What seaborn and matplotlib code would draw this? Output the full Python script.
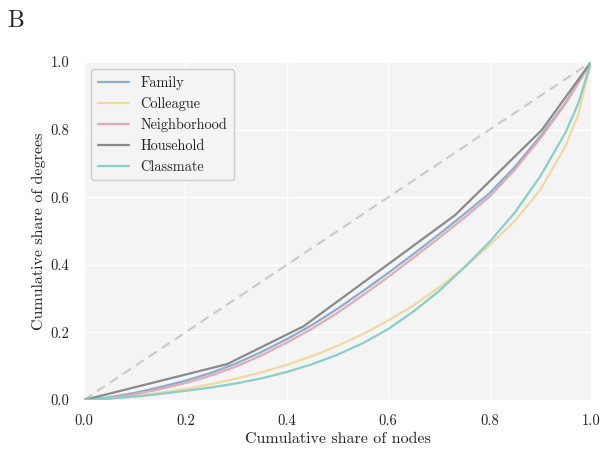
import matplotlib
matplotlib.use("Agg")
import matplotlib.pyplot as plt
import seaborn as sns
import pandas as pd

# ---- data ----
x_smooth = [0.0, 0.05, 0.1, 0.15, 0.2, 0.25, 0.3, 0.35, 0.4, 0.45, 0.5,
            0.55, 0.6, 0.65, 0.7, 0.75, 0.8, 0.85, 0.9, 0.95, 0.975, 1.0]
family = [0.0, 0.008, 0.021, 0.038, 0.057, 0.080, 0.108, 0.142, 0.180, 0.222, 0.270,
          0.322, 0.376, 0.432, 0.490, 0.550, 0.612, 0.690, 0.780, 0.880, 0.940, 1.0]
neighborhood = [0.0, 0.006, 0.017, 0.032, 0.050, 0.072, 0.099, 0.132, 0.170, 0.211, 0.258,
                0.310, 0.364, 0.421, 0.479, 0.539, 0.602, 0.682, 0.774, 0.877, 0.938, 1.0]
colleague = [0.0, 0.004, 0.011, 0.021, 0.033, 0.047, 0.063, 0.082, 0.104, 0.130, 0.160,
             0.195, 0.235, 0.280, 0.333, 0.392, 0.458, 0.530, 0.622, 0.752, 0.845, 1.0]
classmate = [0.0, 0.004, 0.010, 0.018, 0.027, 0.037, 0.049, 0.064, 0.083, 0.106, 0.134,
             0.168, 0.210, 0.262, 0.322, 0.392, 0.468, 0.555, 0.662, 0.792, 0.878, 1.0]
x_household = [0.0, 0.282, 0.433, 0.732, 0.903, 1.0]
household = [0.0, 0.106, 0.218, 0.547, 0.799, 1.0]

layers = ["Family", "Colleague", "Neighborhood", "Household", "Classmate"]
colors = ["#8aaccf", "#f0d9a0", "#e2aab5", "#8a8a8a", "#88cfc8"]
ticks = [0.0, 0.2, 0.4, 0.6, 0.8, 1.0]

frames = [
    pd.DataFrame({"x": x_smooth, "y": family, "layer": "Family"}),
    pd.DataFrame({"x": x_smooth, "y": colleague, "layer": "Colleague"}),
    pd.DataFrame({"x": x_smooth, "y": neighborhood, "layer": "Neighborhood"}),
    pd.DataFrame({"x": x_household, "y": household, "layer": "Household"}),
    pd.DataFrame({"x": x_smooth, "y": classmate, "layer": "Classmate"}),
]
df = pd.concat(frames, ignore_index=True)

# ---- style ----
sns.set_theme(style="darkgrid", rc={
    "axes.facecolor": "#f4f4f4",
    "grid.color": "white",
    "grid.linewidth": 1.0,
    "axes.edgecolor": "#f4f4f4",
})
plt.rcParams["font.family"] = ["cmr10", "DejaVu Serif"]
plt.rcParams["mathtext.fontset"] = "cm"
plt.rcParams["axes.formatter.use_mathtext"] = True
plt.rcParams["axes.unicode_minus"] = False

fig = plt.figure(figsize=(6.02, 4.53), dpi=100)
ax = fig.add_axes([0.1395, 0.117, 0.8422, 0.746])

ax.axline((0, 0), slope=1, ls=(0, (5, 3)), color="#c8c8c8", lw=1.4, zorder=1)

sns.lineplot(data=df, x="x", y="y", hue="layer", hue_order=layers,
             palette=dict(zip(layers, colors)), lw=1.6, sort=True,
             estimator=None, ax=ax)

ax.set_xlim(0, 1)
ax.set_ylim(0, 1)
ax.set_xticks(ticks)
ax.set_yticks(ticks)
ax.set_xticklabels([f"{t:.1f}" for t in ticks], fontsize=10.5, color="#222222")
ax.set_yticklabels([f"{t:.1f}" for t in ticks], fontsize=10.5, color="#222222")
ax.tick_params(axis="both", length=0, pad=10.5)
ax.set_xlabel("Cumulative share of nodes", fontsize=11.5, color="#222222", labelpad=3)
ax.set_ylabel("Cumulative share of degrees", fontsize=11.5, color="#222222", labelpad=3)
for s in ax.spines.values():
    s.set_visible(False)

leg = ax.legend(loc="upper left", fontsize=10.3, frameon=True, handlelength=2.2,
                borderpad=0.45, labelspacing=0.5, handletextpad=0.8)
leg.get_frame().set_facecolor("#f4f4f4")
leg.get_frame().set_edgecolor("#cccccc")
leg.get_frame().set_alpha(1.0)
for t in leg.get_texts():
    t.set_color("#222222")

fig.text(0.012, 0.94, "B", fontsize=17, color="#222222", ha="left", va="baseline")

fig.savefig("out.png", dpi=100)
